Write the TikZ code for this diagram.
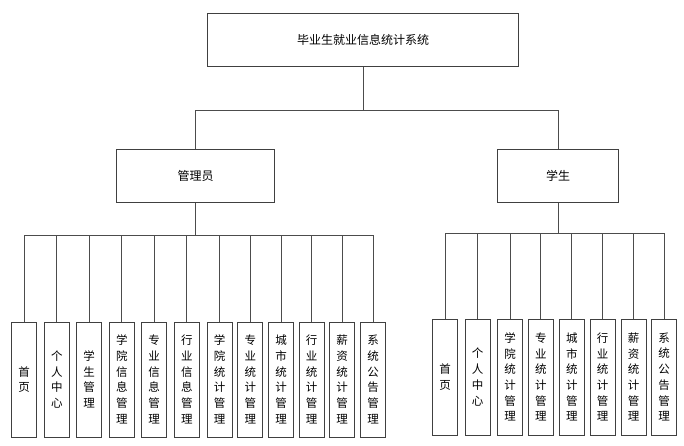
\documentclass[tikz,border=0pt]{standalone}
\usepackage{fontspec}
\newfontfamily\cjkfont{Noto Sans CJK SC}
\begin{document}
\begin{tikzpicture}[x=1pt,y=-1pt,
  box/.style={draw=black!75,line width=0.8pt,inner sep=0pt,
    font=\cjkfont\fontsize{12}{14}\selectfont},
  leaf/.style={box,minimum width=25pt,minimum height=115pt,align=center,
    font=\cjkfont\fontsize{11.5}{15.7}\selectfont},
  link/.style={draw=black!70,line width=0.8pt}]
  \useasboundingbox (0,0) rectangle (684,445);
  % top levels
  \node[box,minimum width=311pt,minimum height=53pt] (sys) at (363,40) {毕业生就业信息统计系统};
  \node[box,minimum width=158pt,minimum height=53pt] (admin) at (195.5,176) {管理员};
  \node[box,minimum width=121pt,minimum height=53pt] (stu) at (558,176) {学生};
  \draw[link] (sys.south) -- ++(0,43) -| (admin.north);
  \draw[link] (sys.south) -- ++(0,43) -| (stu.north);
  % admin functions
  \foreach \x/\t [count=\i] in {24.2/{首\\页},56.8/{个\\人\\中\\心},89.2/{学\\生\\管\\理},
      121.8/{学\\院\\信\\息\\管\\理},154.2/{专\\业\\信\\息\\管\\理},186.8/{行\\业\\信\\息\\管\\理},
      219.5/{学\\院\\统\\计\\管\\理},250.3/{专\\业\\统\\计\\管\\理},281.2/{城\\市\\统\\计\\管\\理},
      311.7/{行\\业\\统\\计\\管\\理},342/{薪\\资\\统\\计\\管\\理},373/{系\\统\\公\\告\\管\\理}}{
    \node[leaf] (a\i) at (\x,379.5) {\t};
    \draw[link] (admin.south) -- ++(0,32.2) -| (a\i.north);
  }
  % student functions
  \foreach \x/\t [count=\i] in {445/{首\\页},477.5/{个\\人\\中\\心},
      510/{学\\院\\统\\计\\管\\理},540.8/{专\\业\\统\\计\\管\\理},571.8/{城\\市\\统\\计\\管\\理},
      602.5/{行\\业\\统\\计\\管\\理},633.5/{薪\\资\\统\\计\\管\\理},664/{系\\统\\公\\告\\管\\理}}{
    \node[leaf,minimum height=116pt] (s\i) at (\x,377) {\t};
    \draw[link] (stu.south) -- ++(0,30.8) -| (s\i.north);
  }
\end{tikzpicture}
\end{document}
